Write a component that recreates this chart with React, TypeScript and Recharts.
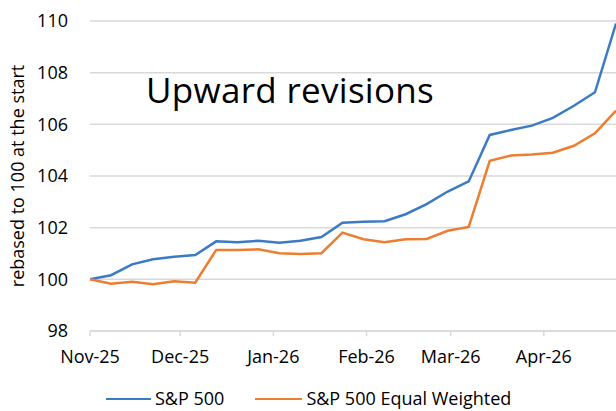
import { LineChart, Line, XAxis, YAxis, CartesianGrid } from 'recharts';

const DAY = 86400000;
const start = Date.UTC(2025, 10, 1) / DAY;

// weekly observations, starting 1 Nov 2025
const weeks = [0, 1, 2, 3, 4, 5, 6, 7, 8, 9, 10, 11, 12, 13, 14, 15, 16, 17, 18, 19, 20, 21, 22, 23, 24, 25];

const sp500 = [
  100.0, 100.16, 100.58, 100.78, 100.87, 100.94, 101.47, 101.44, 101.49, 101.42, 101.49, 101.64, 102.19,
  102.23, 102.25, 102.52, 102.91, 103.4, 103.79, 105.59, 105.78, 105.95, 106.25, 106.72, 107.24, 109.9,
];

const sp500Equal = [
  100.0, 99.83, 99.91, 99.81, 99.93, 99.87, 101.14, 101.14, 101.16, 101.01, 100.98, 101.01, 101.81,
  101.55, 101.44, 101.55, 101.56, 101.88, 102.03, 104.59, 104.79, 104.83, 104.9, 105.17, 105.65, 106.53,
];

const monthTicks = [
  Date.UTC(2025, 10, 1), Date.UTC(2025, 11, 1), Date.UTC(2026, 0, 1),
  Date.UTC(2026, 1, 1), Date.UTC(2026, 2, 1), Date.UTC(2026, 3, 1),
].map((t) => t / DAY);
const monthLabels = ['Nov-25', 'Dec-25', 'Jan-26', 'Feb-26', 'Mar-26', 'Apr-26'];

const yTicks = [98, 100, 102, 104, 106, 108, 110];

const data = weeks.map((w, i) => ({ day: start + w * 7, sp: sp500[i], eq: sp500Equal[i] }));

const BLUE = '#3B7BC4';
const ORANGE = '#ED7D31';
const FONT = '"Open Sans", sans-serif';

export default function App() {
  return (
    <div style={{ position: 'absolute', left: 0, top: 0, width: 616, height: 411, background: '#fff', fontFamily: FONT, overflow: 'hidden' }}>
      <LineChart width={616} height={411} data={data} margin={{ top: 21, right: 0, left: 0, bottom: 50 }}>
        <CartesianGrid vertical={false} stroke="#d9d9d9" strokeWidth={1.5} />
        <XAxis
          dataKey="day"
          type="number"
          domain={[start, start + 175]}
          ticks={monthTicks}
          tickFormatter={(v) => monthLabels[monthTicks.indexOf(v)] ?? ''}
          stroke="#d9d9d9"
          strokeWidth={1.5}
          tickSize={5}
          tickMargin={14}
          height={30}
          tick={{ fill: '#000', fontSize: 18, fontFamily: FONT }}
        />
        <YAxis
          domain={[98, 110]}
          ticks={yTicks}
          width={90}
          axisLine={false}
          tickLine={false}
          tickSize={0}
          tickMargin={22}
          tick={{ fill: '#000', fontSize: 18, fontFamily: FONT }}
          label={{
            content: () => (
              <text x={17} y={176} transform="rotate(-90 17 176)" textAnchor="middle" dominantBaseline="central"
                fontSize={18} fontFamily={FONT} fill="#000">
                rebased to 100 at the start
              </text>
            ),
          }}
        />
        <Line dataKey="sp" stroke={BLUE} strokeWidth={2.5} dot={false} isAnimationActive={false} />
        <Line dataKey="eq" stroke={ORANGE} strokeWidth={2.5} dot={false} isAnimationActive={false} />
      </LineChart>

      <div style={{ position: 'absolute', left: 146, top: 66, fontSize: 35, lineHeight: '48px', color: '#000', fontFamily: FONT, letterSpacing: 0.3 }}>
        Upward revisions
      </div>

      <div style={{ position: 'absolute', left: 106, top: 386, display: 'flex', alignItems: 'center', fontSize: 18, color: '#000', whiteSpace: 'nowrap' }}>
        <span style={{ display: 'inline-block', width: 45, height: 2.5, background: BLUE, marginRight: 4, marginTop: 2 }} />
        <span>S&amp;P 500</span>
        <span style={{ display: 'inline-block', width: 47, height: 2.5, background: ORANGE, marginLeft: 31, marginRight: 4, marginTop: 2 }} />
        <span>S&amp;P 500 Equal Weighted</span>
      </div>
    </div>
  );
}
